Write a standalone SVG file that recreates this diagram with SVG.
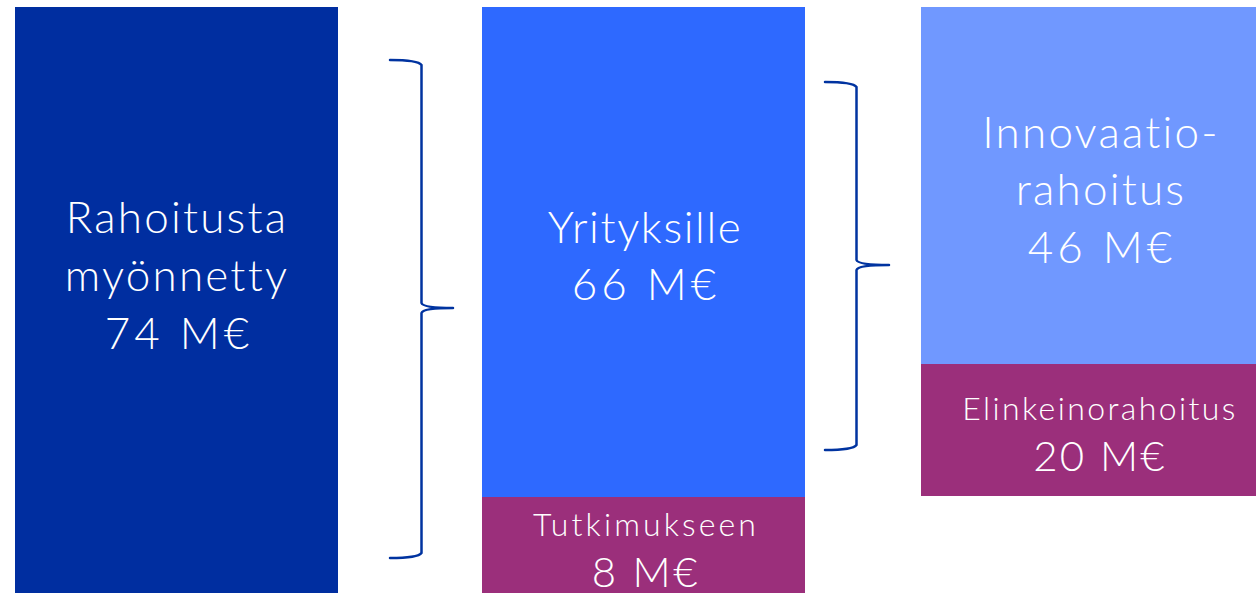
<svg xmlns="http://www.w3.org/2000/svg" width="1256" height="593" viewBox="0 0 1256 593">
<style>
.t{font-family:"Lato","Liberation Sans",sans-serif;font-weight:300;fill:#fff;text-anchor:middle}
.b{font-size:44px;letter-spacing:2.2px}
.n{font-size:44px;letter-spacing:4px}
.s{font-size:32px}
.m{font-size:42px;letter-spacing:2.5px}
.br{fill:none;stroke:#0033A0;stroke-width:2.5;stroke-linecap:round;stroke-linejoin:round}
</style>
<rect width="1256" height="593" fill="#fff"/>
<g id="n1">
<rect x="15" y="7" width="323" height="586" fill="#002EA0"/>
<text class="t b" x="177" y="233">Rahoitusta</text>
<text class="t b" x="177" y="291">myönnetty</text>
<text class="t n" x="179" y="349">74 M€</text>
</g>
<g id="n2">
<rect x="482" y="7" width="323" height="490" fill="#2E69FF"/>
<text class="t b" x="645" y="243" style="letter-spacing:1.6px">Yrityksille</text>
<text class="t n" x="646" y="300">66 M€</text>
</g>
<g id="n3">
<rect x="482" y="497" width="323" height="96" fill="#9B2F7B"/>
<text class="t s" x="646" y="536" style="letter-spacing:3.1px">Tutkimukseen</text>
<text class="t m" x="646" y="587">8 M€</text>
</g>
<g id="n4">
<rect x="921" y="7" width="335" height="357" fill="#7098FF"/>
<text class="t b" x="1101" y="148">Innovaatio-</text>
<text class="t b" x="1101" y="205">rahoitus</text>
<text class="t n" x="1102" y="263">46 M€</text>
</g>
<g id="n5">
<rect x="921" y="364" width="335" height="132" fill="#9B2F7B"/>
<text class="t s" x="1100" y="420" style="letter-spacing:2.4px">Elinkeinorahoitus</text>
<text class="t m" x="1100" y="471" style="letter-spacing:2.2px">20 M€</text>
</g>
<g id="connectors">
<path class="br" d="M390 60 Q418 60 421.5 65 L421.5 303 Q423 308 453 308 Q423 308 421.5 313 L421.5 553 Q418 558 390 558"/>
<path class="br" d="M825 82 Q853 82 856.5 87 L856.5 260 Q858 265 889 265 Q858 265 856.5 270 L856.5 445 Q853 450 825 450"/>
</g>
</svg>
